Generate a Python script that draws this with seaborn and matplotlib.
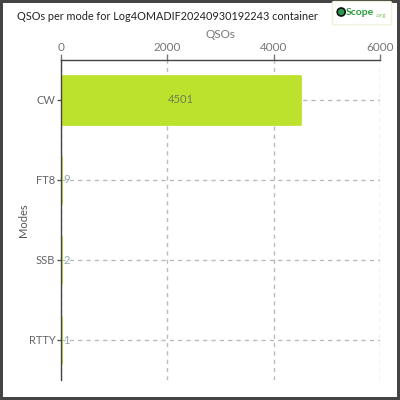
import matplotlib
matplotlib.use("Agg")
import matplotlib.pyplot as plt
import seaborn as sns
import pandas as pd
from matplotlib.patches import Circle, FancyBboxPatch

# data
modes = ["CW", "FT8", "SSB", "RTTY"]
qsos = [4501, 9, 2, 1]
x_ticks = [0, 2000, 4000, 6000]
title = "QSOs per mode for Log4OMADIF20240930192243 container"

df = pd.DataFrame({"Modes": modes, "QSOs": qsos})

sns.set_style("white")
plt.rcParams["font.family"] = ["Lato", "DejaVu Sans"]

fig = plt.figure(figsize=(4, 4), dpi=100)
fig.patch.set_edgecolor("#444444")
fig.patch.set_linewidth(3)
ax = fig.add_axes([0.1525, 0.05, 0.7975, 0.80])

bar_color = "#bde22e"
sns.barplot(data=df, x="QSOs", y="Modes", orient="h", color=bar_color,
            width=0.6, saturation=1, ax=ax, zorder=2)
for p in ax.patches:
    p.set_edgecolor(bar_color)
    p.set_linewidth(2)
    p.set_joinstyle("round")

ax.set_xlim(0, 6000)
ax.set_xticks(x_ticks)
ax.xaxis.tick_top()
ax.xaxis.set_label_position("top")
ax.set_xlabel("QSOs", color="#777777", fontsize=8.5, labelpad=3)
ax.set_ylabel("Modes", color="#555555", fontsize=8)
ax.yaxis.set_label_coords(-0.1, 0.5)
ax.tick_params(axis="x", colors="#777777", labelsize=8.5, length=4, width=1,
               top=True, bottom=False, pad=1)
ax.tick_params(axis="y", colors="#555555", labelsize=8, length=3, width=1,
               left=True, pad=1)
for lbl in ax.get_yticklabels():
    lbl.set_color("#666666")

ax.grid(True, axis="both", linestyle=(0, (3, 3)), color="#bbbbbb",
        linewidth=1, zorder=0)
ax.set_axisbelow(True)
for side in ["right", "bottom"]:
    ax.spines[side].set_visible(False)
for side in ["left", "top"]:
    ax.spines[side].set_color("#444444")
    ax.spines[side].set_linewidth(1)

# value labels
for i, v in enumerate(qsos):
    if v > 500:
        ax.text(v / 2, i, str(v), ha="center", va="center", fontsize=8,
                color="#6b7f52", zorder=3)
    else:
        ax.text(40, i, str(v), ha="left", va="center", fontsize=8,
                color="#8fa8b0", zorder=3)

fig.text(0.0425, 0.96, title, ha="left", va="center", fontsize=7.8,
         color="#222222")

# logo
logo = FancyBboxPatch((0.835, 0.942), 0.14, 0.05, boxstyle="round,pad=0.004",
                      transform=fig.transFigure, facecolor="white",
                      edgecolor="#eef3d8", linewidth=1)
fig.patches.append(logo)
fig.patches.append(Circle((0.853, 0.97), 0.01, transform=fig.transFigure,
                          facecolor="#2a9a4a", edgecolor="#111111",
                          linewidth=1.2))
fig.text(0.865, 0.969, "Scope", ha="left", va="center", fontsize=7.5,
         fontweight="bold", color="#2a9a3a")
fig.text(0.94, 0.962, ".org", ha="left", va="center", fontsize=4.5,
         color="#7cc05a")

fig.savefig("out.png", dpi=100)
